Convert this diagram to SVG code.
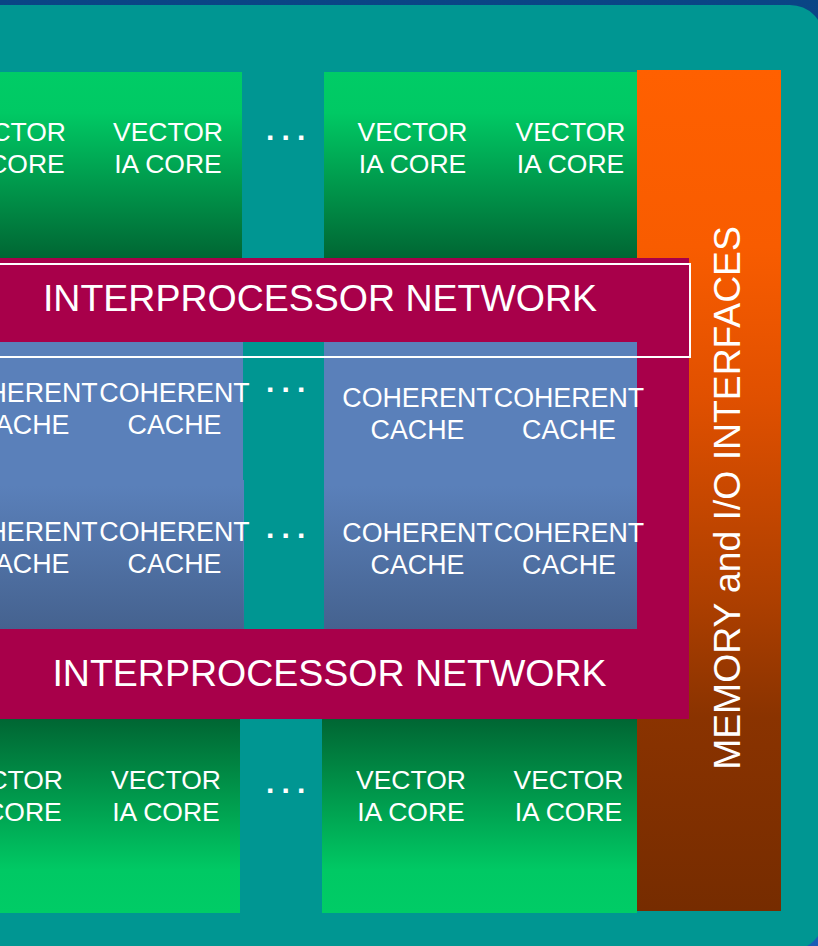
<svg xmlns="http://www.w3.org/2000/svg" width="818" height="946" viewBox="0 0 818 946">
<defs>
<linearGradient id="bg" x1="0" y1="0" x2="0" y2="1"><stop offset="0" stop-color="#0A4585"/><stop offset="1" stop-color="#1A5CB5"/></linearGradient>
<linearGradient id="gTop" x1="0" y1="0" x2="0" y2="1"><stop offset="0" stop-color="#00CC66"/><stop offset="0.22" stop-color="#00C964"/><stop offset="1" stop-color="#006633"/></linearGradient>
<linearGradient id="gBot" x1="0" y1="0" x2="0" y2="1"><stop offset="0" stop-color="#006633"/><stop offset="0.78" stop-color="#00C964"/><stop offset="1" stop-color="#00CC66"/></linearGradient>
<linearGradient id="gBlue" x1="0" y1="0" x2="0" y2="1"><stop offset="0" stop-color="#5A80BA"/><stop offset="0.5" stop-color="#5A80BA"/><stop offset="1" stop-color="#45628F"/></linearGradient>
<linearGradient id="gOrange" x1="0" y1="0" x2="0" y2="1"><stop offset="0" stop-color="#FF6000"/><stop offset="0.21" stop-color="#F85C00"/><stop offset="0.39" stop-color="#E05000"/><stop offset="0.63" stop-color="#AD3F00"/><stop offset="0.77" stop-color="#8A3300"/><stop offset="1" stop-color="#762C00"/></linearGradient>
</defs>
<style>
text{font-family:"Liberation Sans",Arial,sans-serif;fill:#FFFFFF}
.core{font-size:26.5px;text-anchor:middle}
.cache{font-size:26.8px;text-anchor:middle}
.net{font-size:37.5px;text-anchor:middle}
.mem{font-size:37.3px;text-anchor:middle}
.dots{font-size:30px;font-weight:bold;letter-spacing:7.2px}
</style>
<rect x="0" y="0" width="818" height="946" fill="url(#bg)"/>
<rect x="-40" y="5" width="864" height="945.6" rx="34" fill="#009692"/>

<g id="memory-io">
<rect x="637" y="70" width="144" height="841" fill="url(#gOrange)"/>
<text class="mem" x="740" y="498" transform="rotate(-90 740 498)">MEMORY and I/O INTERFACES</text>
</g>

<g id="interprocessor-network">
<path d="M-10 258H689V719H-10V629H637V342H-10Z" fill="#A8004A"/>
</g>

<g id="cores-top-left">
<rect x="-80" y="72" width="322" height="186" fill="url(#gTop)"/>
<g id="core-t1"><text class="core" x="11" y="141">VECTOR</text><text class="core" x="11" y="172.7">IA CORE</text></g>
<g id="core-t2"><text class="core" x="168" y="141">VECTOR</text><text class="core" x="168" y="172.7">IA CORE</text></g>
</g>
<g id="cores-top-right">
<rect x="324" y="72" width="313" height="186" fill="url(#gTop)"/>
<g id="core-t3"><text class="core" x="412.5" y="141">VECTOR</text><text class="core" x="412.5" y="172.7">IA CORE</text></g>
<g id="core-t4"><text class="core" x="570.5" y="141">VECTOR</text><text class="core" x="570.5" y="172.7">IA CORE</text></g>
</g>

<g id="cores-bottom-left">
<rect x="-80" y="719" width="320" height="194" fill="url(#gBot)"/>
<g id="core-b1"><text class="core" x="8" y="789">VECTOR</text><text class="core" x="8" y="821">IA CORE</text></g>
<g id="core-b2"><text class="core" x="166" y="789">VECTOR</text><text class="core" x="166" y="821">IA CORE</text></g>
</g>
<g id="cores-bottom-right">
<rect x="322" y="719" width="315" height="194" fill="url(#gBot)"/>
<g id="core-b3"><text class="core" x="411" y="789">VECTOR</text><text class="core" x="411" y="821">IA CORE</text></g>
<g id="core-b4"><text class="core" x="568.5" y="789">VECTOR</text><text class="core" x="568.5" y="821">IA CORE</text></g>
</g>

<g id="caches-left">
<rect x="-80" y="342" width="323" height="287" fill="url(#gBlue)"/>
<rect x="243" y="480" width="1" height="149" fill="url(#gBlue)"/>
<g id="cache-1"><text class="cache" x="22.5" y="402">COHERENT</text><text class="cache" x="22.5" y="434">CACHE</text></g>
<g id="cache-2"><text class="cache" x="174.5" y="402">COHERENT</text><text class="cache" x="174.5" y="434">CACHE</text></g>
<g id="cache-5"><text class="cache" x="22.5" y="541">COHERENT</text><text class="cache" x="22.5" y="573">CACHE</text></g>
<g id="cache-6"><text class="cache" x="174.5" y="541">COHERENT</text><text class="cache" x="174.5" y="573">CACHE</text></g>
</g>
<g id="caches-right">
<rect x="324" y="342" width="313" height="287" fill="url(#gBlue)"/>
<g id="cache-3"><text class="cache" x="417.5" y="407">COHERENT</text><text class="cache" x="417.5" y="439">CACHE</text></g>
<g id="cache-4"><text class="cache" x="569" y="407">COHERENT</text><text class="cache" x="569" y="439">CACHE</text></g>
<g id="cache-7"><text class="cache" x="417.5" y="542">COHERENT</text><text class="cache" x="417.5" y="574">CACHE</text></g>
<g id="cache-8"><text class="cache" x="569" y="542">COHERENT</text><text class="cache" x="569" y="574">CACHE</text></g>
</g>

<g id="ellipses">
<text class="dots" x="266" y="139.5">...</text>
<text class="dots" x="266" y="392">...</text>
<text class="dots" x="266" y="538">...</text>
<text class="dots" x="266" y="793">...</text>
</g>

<g id="network-top">
<text class="net" x="320" y="311">INTERPROCESSOR NETWORK</text>
<rect x="-10" y="264" width="700" height="93" fill="none" stroke="#FFFFFF" stroke-width="2"/>
</g>
<g id="network-bottom">
<text class="net" x="329.5" y="686">INTERPROCESSOR NETWORK</text>
</g>
<g id="connectors"/>
</svg>
